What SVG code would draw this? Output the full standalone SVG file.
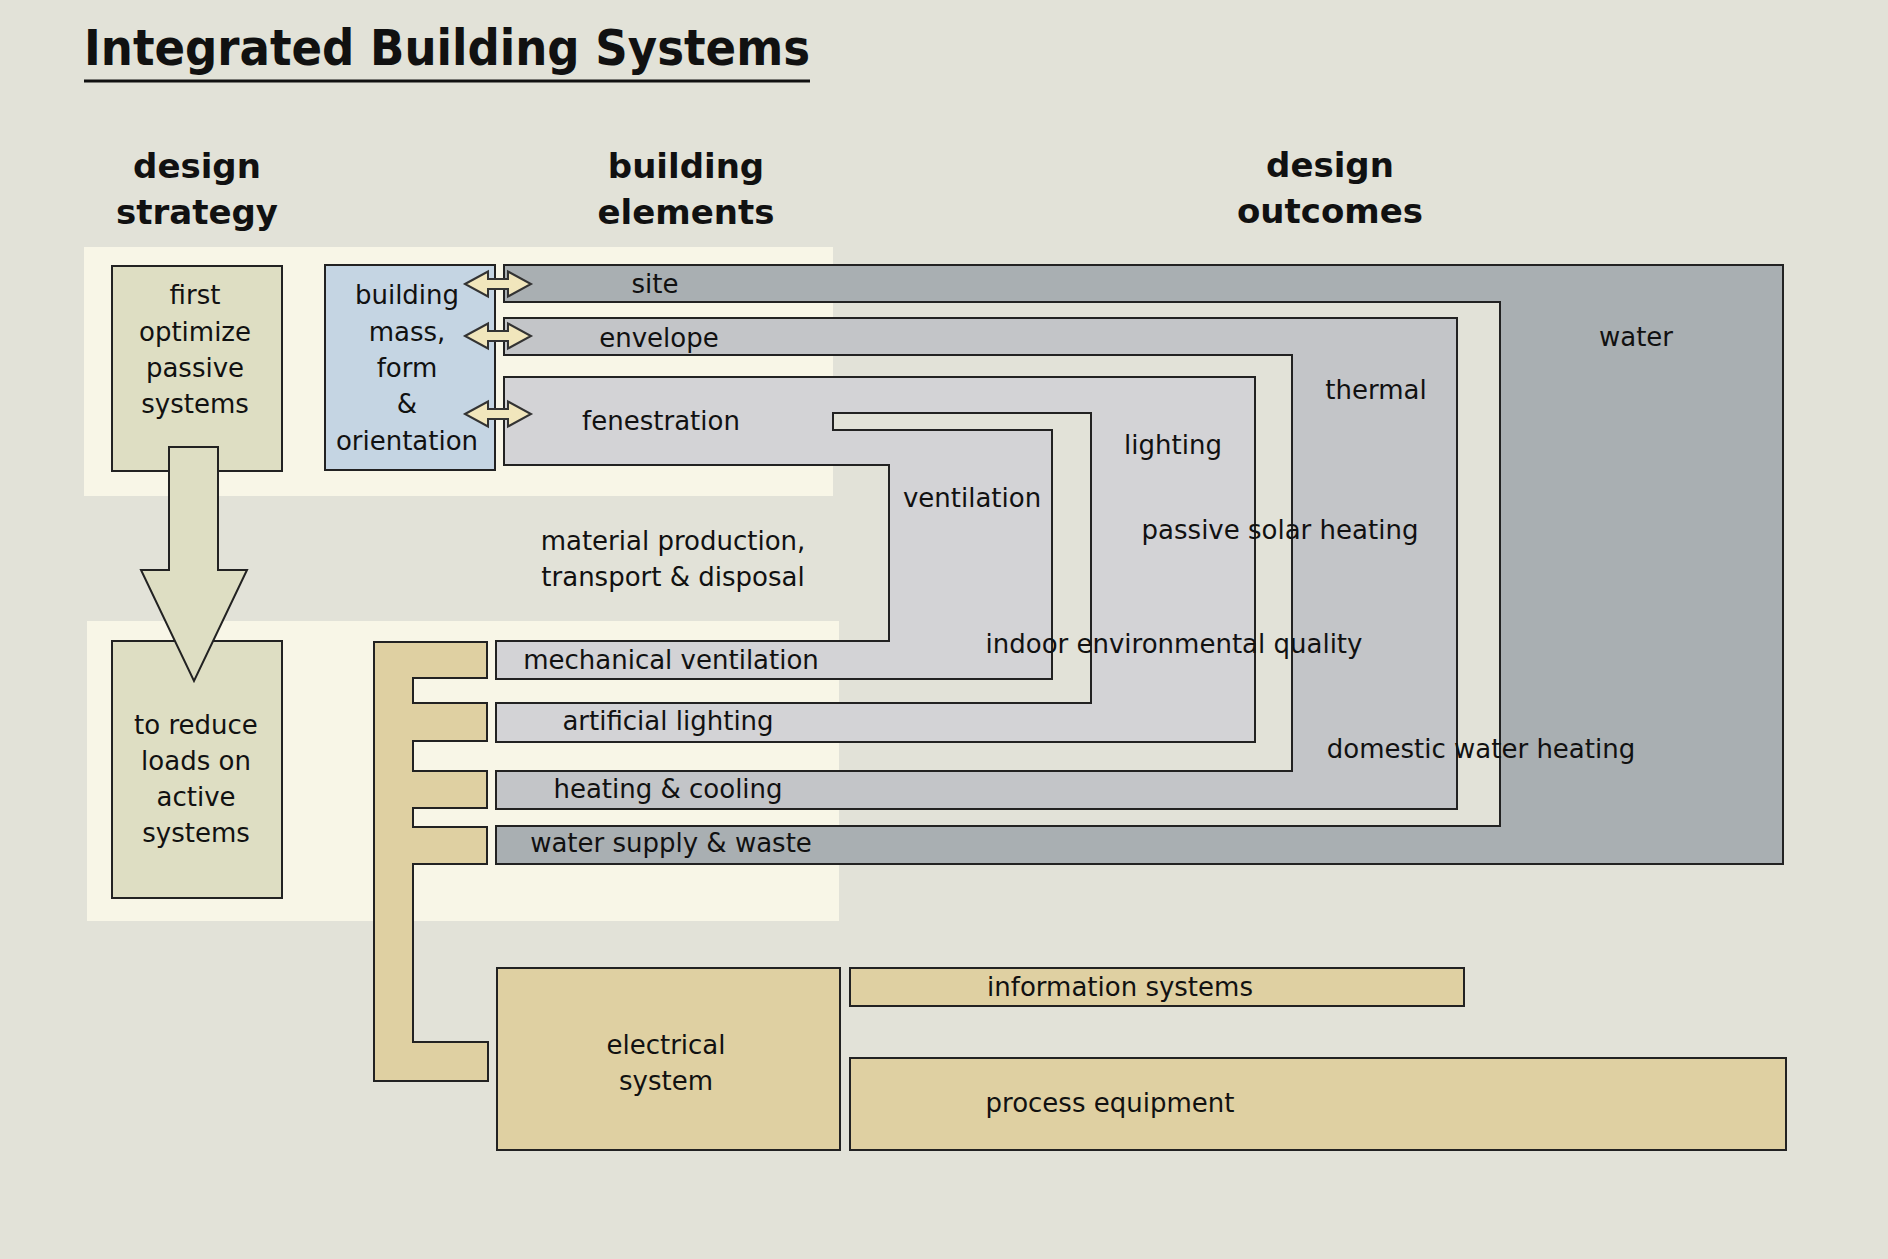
<svg xmlns="http://www.w3.org/2000/svg" width="1888" height="1259" viewBox="0 0 1888 1259">
<style>
text{font-family:"DejaVu Sans",Verdana,sans-serif;font-size:26px;fill:#111;text-anchor:middle}
.h{font-weight:bold;font-size:34px}
.s{stroke:#222;stroke-width:2}
</style>
<defs>
<path id="darr" d="M0,0 L23,-12.5 L23,-5 L43,-5 L43,-12.5 L66,0 L43,12.5 L43,5 L23,5 L23,12.5 Z" fill="#f1e6bc" stroke="#333" stroke-width="2"/>
</defs>
<rect width="1888" height="1259" fill="#e2e2d8"/>
<text x="84" y="65" style="font-weight:bold;font-size:50px;text-anchor:start" textLength="726" lengthAdjust="spacingAndGlyphs">Integrated Building Systems</text>
<line x1="84" y1="81" x2="810" y2="81" stroke="#111" stroke-width="3"/>
<g id="headers">
<text class="h" x="197" y="178">design</text><text class="h" x="197" y="224">strategy</text>
<text class="h" x="686" y="178">building</text><text class="h" x="686" y="224">elements</text>
<text class="h" x="1330" y="177">design</text><text class="h" x="1330" y="223">outcomes</text>
</g>
<g id="panels">
<rect x="84" y="247" width="749" height="249" fill="#f8f6e7"/>
<rect x="87" y="621" width="752" height="300" fill="#f8f6e7"/>
</g>
<g id="strategy1"><rect class="s" x="112" y="266" width="170" height="205" fill="#dedec3"/>
<text x="195" y="304">first</text><text x="195" y="341">optimize</text><text x="195" y="377">passive</text><text x="195" y="413">systems</text></g>
<g id="strategy2"><rect class="s" x="112" y="641" width="170" height="257" fill="#dedec3"/>
<text x="196" y="734">to reduce</text><text x="196" y="770">loads on</text><text x="196" y="806">active</text><text x="196" y="842">systems</text></g>
<g id="building"><rect class="s" x="325" y="265" width="170" height="205" fill="#c5d5e3"/>
<text x="407" y="304">building</text><text x="407" y="341">mass,</text><text x="407" y="377">form</text><text x="407" y="413">&amp;</text><text x="407" y="450">orientation</text></g>
<g id="water"><path class="s" fill="#a9afb2" d="M504,265 H1783 V864 H496 V826 H1500 V302 H504 Z"/>
<text x="655" y="293">site</text><text x="1636" y="346">water</text><text x="671" y="852">water supply &amp; waste</text></g>
<g id="thermal"><path class="s" fill="#c3c5c8" d="M504,318 H1457 V809 H496 V771 H1292 V355 H504 Z"/>
<text x="659" y="347">envelope</text><text x="1376" y="399">thermal</text><text x="668" y="798">heating &amp; cooling</text></g>
<g id="lighting"><path class="s" fill="#d3d3d6" d="M504,377 H1255 V742 H496 V703 H1091 V413 H833 V430 H1052 V679 H496 V641 H889 V465 H504 Z"/>
<text x="661" y="430">fenestration</text><text x="1173" y="454">lighting</text><text x="972" y="507">ventilation</text>
<text x="671" y="669">mechanical ventilation</text><text x="668" y="730">artificial lighting</text></g>
<g id="outcomes">
<text x="1280" y="539">passive solar heating</text>
<text x="1174" y="653">indoor environmental quality</text>
<text x="1481" y="758">domestic water heating</text>
<text x="673" y="550">material production,</text><text x="673" y="586">transport &amp; disposal</text>
</g>
<g id="electrical">
<path class="s" fill="#dfd0a2" d="M374,642 H487 V678 H413 V703 H487 V741 H413 V771 H487 V808 H413 V827 H487 V864 H413 V1042 H488 V1081 H374 Z"/>
<rect class="s" x="497" y="968" width="343" height="182" fill="#dfd0a2"/>
<text x="666" y="1054">electrical</text><text x="666" y="1090">system</text>
</g>
<g id="info"><rect class="s" x="850" y="968" width="614" height="38" fill="#dfd0a2"/><text x="1120" y="996">information systems</text></g>
<g id="process"><rect class="s" x="850" y="1058" width="936" height="92" fill="#dfd0a2"/><text x="1110" y="1112">process equipment</text></g>
<g id="connectors">
<path class="s" d="M169,447 H218 V570 H247 L194,681 L141,570 H169 Z" fill="#dedec3"/>
<use href="#darr" x="465" y="284"/>
<use href="#darr" x="465" y="336"/>
<use href="#darr" x="465" y="414"/>
</g>
</svg>
